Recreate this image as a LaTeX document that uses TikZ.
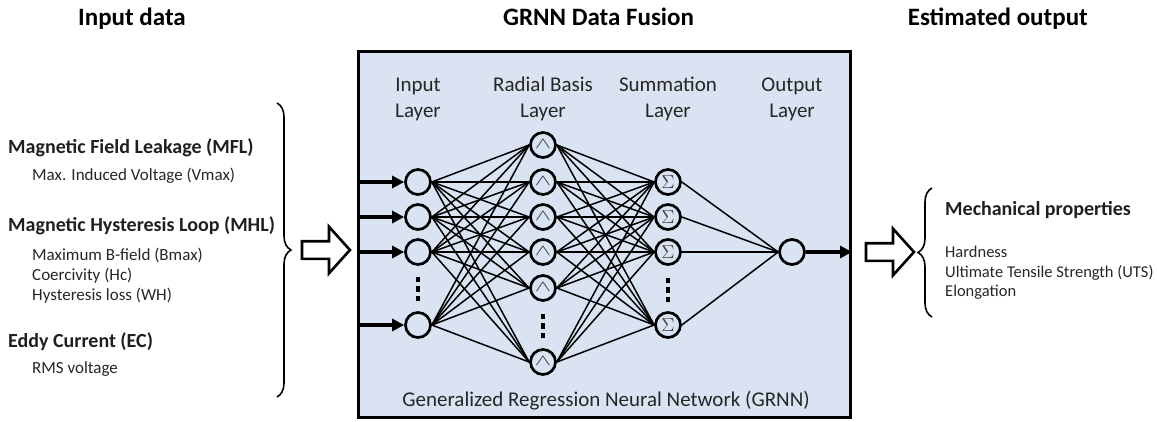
\documentclass[tikz,border=0pt]{standalone}
\usepackage{fontspec}
\setmainfont{Carlito}
\usepackage{tikz}
\usetikzlibrary{shapes.arrows,arrows.meta,positioning,decorations.pathreplacing}
\definecolor{fusionblue}{RGB}{218,227,241}
\definecolor{symgray}{RGB}{60,60,60}
\newcommand{\sqdots}{\rule{3.5pt}{5.5pt}\\\rule{3.5pt}{5.5pt}\\\rule{3.5pt}{5.5pt}}
\newcommand{\rbfhat}{\raisebox{1pt}{\scalebox{1.7}[1.1]{$\wedge$}}}
\newcommand{\sumsym}{\scalebox{1.3}{$\Sigma$}}

\begin{document}
\begin{tikzpicture}[x=1pt, y=-1pt,
  header/.style={font=\fontsize{25}{30}\selectfont\bfseries, inner sep=0pt},
  groupname/.style={font=\fontsize{20}{24}\selectfont\bfseries, anchor=base west,
              inner sep=0pt, text=black!88},
  feature/.style={font=\fontsize{17}{20}\selectfont, anchor=base west,
              inner sep=0pt, text=black!85},
  outfeature/.style={feature, font=\fontsize{16.5}{20}\selectfont},
  layername/.style={font=\fontsize{21}{26}\selectfont, align=center,
              inner sep=0pt, text=black!85},
  fusionbox/.style={rectangle, draw, line width=3pt, fill=fusionblue,
              minimum width=492pt, minimum height=366pt},
  neuron/.style={circle, draw, line width=2.7pt, minimum size=25pt,
              inner sep=0pt, fill=fusionblue},
  rbfunit/.style={neuron, font=\fontsize{14}{14}\selectfont, text=symgray},
  sumunit/.style={neuron, font=\fontsize{15}{15}\selectfont, text=symgray},
  dotcol/.style={align=center, inner sep=0pt, font=\fontsize{5}{9.5}\selectfont},
  link/.style={line width=1.5pt},
  flow/.style={-{Triangle[length=12pt,width=12pt]}, line width=3.2pt},
  blockarrow/.style={single arrow, draw, line width=2.6pt, fill=white,
              minimum height=48pt, inner xsep=0pt, inner ysep=7.5pt,
              single arrow head extend=14.5pt, single arrow tip angle=96},
  curly/.style={decorate, line width=1.6pt,
              decoration={brace, amplitude=14pt}}
]
  \useasboundingbox (0,0) rectangle (1157,421);

  % headings
  \node[header, anchor=base west] (hin) at (78,25) {Input data};
  \node[header, anchor=base west] (hfus) at (503,25) {GRNN Data Fusion};
  \node[header, anchor=base east] (hout) at (1088,25) {Estimated output};

  % input data
  \node[groupname] (mfl) at (8,153) {Magnetic Field Leakage (MFL)};
  \node[feature] (vmax) at (32,180) {Max. Induced Voltage (Vmax)};
  \node[groupname] (mhl) at (8,231) {Magnetic Hysteresis Loop (MHL)};
  \node[feature] (bmax) at (32,260) {Maximum B-field (Bmax)};
  \node[feature] (hc) at (32,280) {Coercivity (Hc)};
  \node[feature] (wh) at (32,300) {Hysteresis loss (WH)};
  \node[groupname] (ec) at (8,347) {Eddy Current (EC)};
  \node[feature] (rms) at (32,373) {RMS voltage};
  \draw[curly] (277,103) -- (277,397);
  \node[blockarrow] (inarrow) at (322,250) {};

  % fusion box
  \node[fusionbox] (fusion) at (604.5,234.5) {};
  \node[layername] (linput) at (418,99) {Input\\Layer};
  \node[layername] (lrbf) at (543,99) {Radial Basis\\Layer};
  \node[layername] (lsum) at (668,99) {Summation\\Layer};
  \node[layername] (lout) at (792,99) {Output\\Layer};
  \node[layername, anchor=base] (caption) at (606,406)
       {Generalized Regression Neural Network (GRNN)};

  \node[neuron] (i1) at (418,182) {};
  \node[neuron] (i2) at (418,217) {};
  \node[neuron] (i3) at (418,252) {};
  \node[dotcol] (idots) at (418,289) {\sqdots};
  \node[neuron] (i4) at (418,325) {};

  \node[rbfunit] (r1) at (543,145) {\rbfhat};
  \node[rbfunit] (r2) at (543,182) {\rbfhat};
  \node[rbfunit] (r3) at (543,217) {\rbfhat};
  \node[rbfunit] (r4) at (543,252) {\rbfhat};
  \node[rbfunit] (r5) at (543,288) {\rbfhat};
  \node[dotcol] (rdots) at (543,326) {\sqdots};
  \node[rbfunit] (r6) at (543,362) {\rbfhat};

  \node[sumunit] (s1) at (668,182) {\sumsym};
  \node[sumunit] (s2) at (668,217) {\sumsym};
  \node[sumunit] (s3) at (668,252) {\sumsym};
  \node[dotcol] (sdots) at (668,290) {\sqdots};
  \node[sumunit] (s4) at (668,325) {\sumsym};

  \node[neuron] (o1) at (792,252) {};

  \foreach \a in {1,...,4}
    \foreach \b in {1,...,6}
      \draw[link] (i\a.east) -- (r\b.west);
  \foreach \b in {1,...,6}
    \foreach \c in {1,...,4}
      \draw[link] (r\b.east) -- (s\c.west);
  \foreach \c in {1,...,4}
    \draw[link] (s\c.east) -- (o1.west);

  \foreach \a in {1,...,4} {
    \coordinate (x\a) at (fusion.west |- i\a);
    \draw[flow] (x\a) -- (i\a);
  }
  \coordinate (y1) at (fusion.east |- o1);
  \draw[flow] (o1) -- (y1);

  % estimated output
  \node[blockarrow] (outarrow) at (886,252) {};
  \draw[curly] (932,317) -- (932,188);
  \node[groupname] (mech) at (945,215) {Mechanical properties};
  \node[outfeature] (hard) at (945,257) {Hardness};
  \node[outfeature] (uts) at (945,277) {Ultimate Tensile Strength (UTS)};
  \node[outfeature] (elong) at (945,296) {Elongation};
\end{tikzpicture}
\end{document}
